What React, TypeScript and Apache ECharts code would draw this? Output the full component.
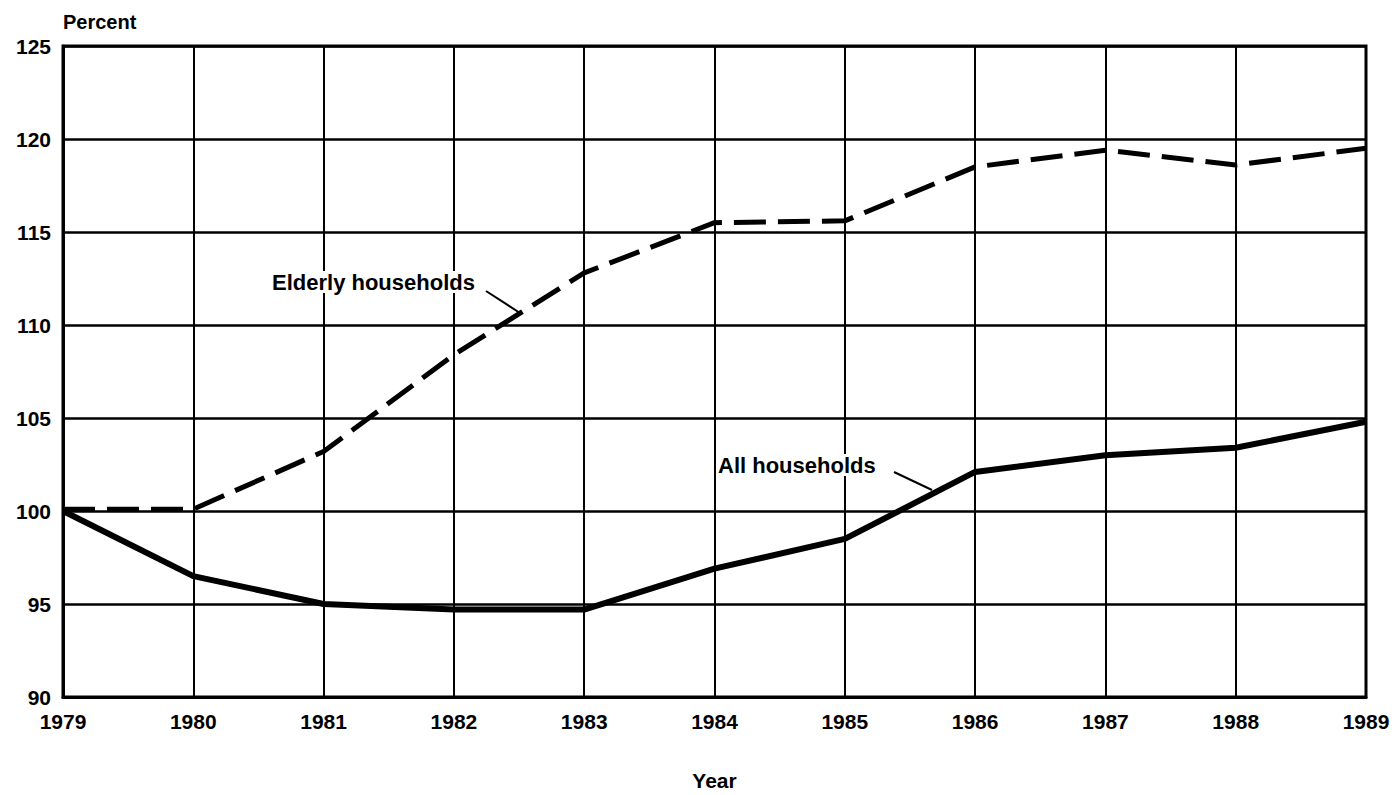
import React, { useEffect, useRef } from "react";
import * as echarts from "echarts";

const years = ["1979", "1980", "1981", "1982", "1983", "1984", "1985", "1986", "1987", "1988", "1989"];
const allHouseholds = [100, 96.5, 95.0, 94.7, 94.7, 96.9, 98.5, 102.1, 103.0, 103.4, 104.8];
const elderlyHouseholds = [100.1, 100.1, 103.2, 108.4, 112.8, 115.5, 115.6, 118.5, 119.4, 118.6, 119.5];
const yMin = 90;
const yMax = 125;
const yStep = 5;

const FONT = "'Liberation Sans', Arial, Helvetica, sans-serif";

export default function App() {
  const ref = useRef<HTMLDivElement>(null);
  useEffect(() => {
    if (!ref.current) return;
    const chart = echarts.init(ref.current, null, { renderer: "svg" });
    chart.setOption({
      animation: false,
      backgroundColor: "#ffffff",
      grid: {
        left: 63,
        right: 29,
        top: 46,
        bottom: 98,
        show: true,
        borderColor: "#000",
        borderWidth: 3,
        containLabel: false,
        outerBoundsMode: "none",
      },
      xAxis: {
        type: "category",
        data: years,
        boundaryGap: false,
        name: "Year",
        nameLocation: "middle",
        nameGap: 73,
        nameTextStyle: { fontFamily: FONT, fontWeight: "bold", fontSize: 21, color: "#000" },
        axisLine: { show: true, lineStyle: { color: "#000", width: 3 } },
        axisTick: { show: false },
        axisLabel: { fontFamily: FONT, fontWeight: "bold", fontSize: 21, color: "#000", margin: 14, interval: 0 },
        splitLine: { show: true, interval: 0, lineStyle: { color: "#000", width: 2 } },
      },
      yAxis: {
        type: "value",
        min: yMin,
        max: yMax,
        interval: yStep,
        name: "Percent",
        nameLocation: "end",
        nameGap: 14,
        nameTextStyle: { fontFamily: FONT, fontWeight: "bold", fontSize: 20, color: "#000", align: "left" },
        axisLine: { show: true, lineStyle: { color: "#000", width: 3 } },
        axisTick: { show: false },
        axisLabel: { fontFamily: FONT, fontWeight: "bold", fontSize: 21, color: "#000", margin: 12 },
        splitLine: { show: true, lineStyle: { color: "#000", width: 2.5 } },
      },
      series: [
        {
          name: "All households",
          type: "line",
          data: allHouseholds,
          symbol: "none",
          lineStyle: { color: "#000", width: 6 },
          z: 5,
        },
        {
          name: "Elderly households",
          type: "line",
          data: elderlyHouseholds,
          symbol: "none",
          lineStyle: { color: "#000", width: 5, type: [32, 12] },
          z: 5,
        },
      ],
      graphic: [
        {
          type: "text",
          left: 272,
          top: 271,
          style: { text: "Elderly households", font: `bold 22px ${FONT}`, fill: "#000", backgroundColor: "#fff" },
          z: 10,
        },
        {
          type: "line",
          shape: { x1: 486, y1: 291, x2: 520, y2: 313 },
          style: { stroke: "#000", lineWidth: 2 },
          z: 10,
        },
        {
          type: "text",
          left: 718,
          top: 454,
          style: { text: "All households", font: `bold 22px ${FONT}`, fill: "#000", backgroundColor: "#fff" },
          z: 10,
        },
        {
          type: "line",
          shape: { x1: 894, y1: 472, x2: 932, y2: 490 },
          style: { stroke: "#000", lineWidth: 2 },
          z: 10,
        },
      ],
    });
    return () => chart.dispose();
  }, []);
  return <div ref={ref} style={{ position: "absolute", left: 0, top: 0, width: 1395, height: 795 }} />;
}
